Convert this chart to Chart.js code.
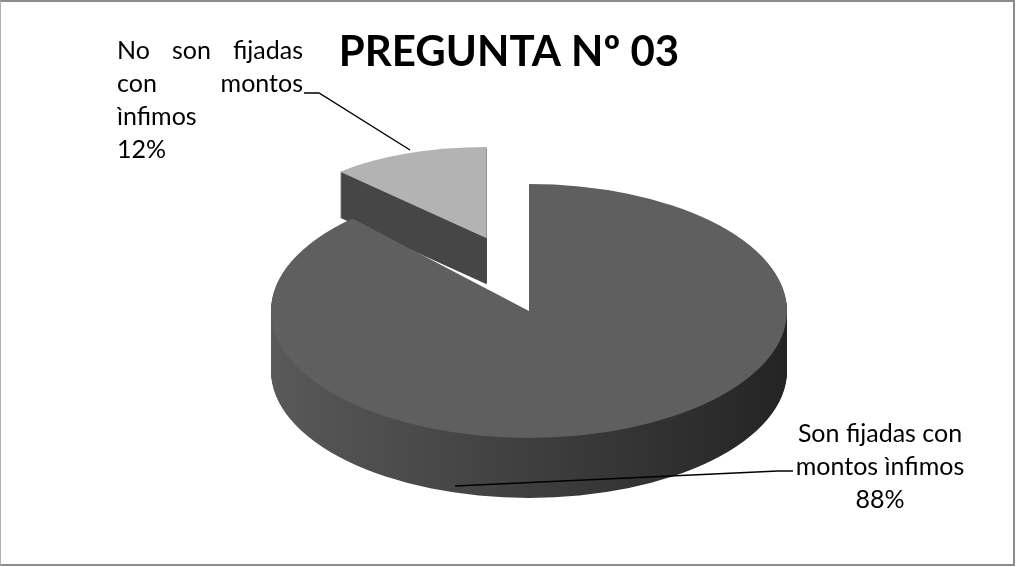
<!DOCTYPE html>
<html lang="es">
<head>
  <meta charset="UTF-8">
  <title>Pregunta Nº 03</title>
  <script src="https://cdn.jsdelivr.net/npm/chart.js"></script>
  <style>
    * {
      margin: 0;
      padding: 0;
      box-sizing: border-box;
    }
    body {
      background: #fff;
      width: 1018px;
      height: 567px;
      overflow: hidden;
      position: relative;
    }
    .frame {
      position: absolute;
      left: 0;
      top: 0;
      width: 1015px;
      height: 566px;
      border: 2px solid #8c8c8c;
      border-left: 1px solid #b0b0b0;
    }
    canvas {
      position: absolute;
      left: 0;
      top: 0;
    }
  </style>
</head>
<body>
  <div class="frame"></div>
  <canvas id="pie" width="1018" height="567"></canvas>

  <script>
    const categories = ['Son fijadas con montos ìnfimos', 'No son fijadas con montos ìnfimos'];
    const percents = [88, 12];
    const chartTitle = 'PREGUNTA Nº 03';

    // tilted ellipse the flat chart circle is mapped onto
    const view = { cx: 529, cy: 311, rx: 258, ry: 127 };

    // look of each slice: top colour, side gradient, thickness, explosion, perspective shrink/rise
    const sliceLook = [
      { top: '#5f5f5f', side: ['#595959', '#242424'], depth: 60, explode: 0, rise: 0, sx: 1, sy: 1 },
      { top: '#b3b3b3', side: ['#464646', '#464646'], depth: 46, explode: 115, rise: 20, sx: 0.83, sy: 0.72 }
    ];

    const labelFont = '25px Lato';
    const labelLook = [
      { x: 880, y: 434, wrap: 175, align: 'center', lead: [[455, 486], [778, 471], [793, 471]] },
      { x: 117, y: 51, wrap: 160, span: 186, align: 'justify', lead: [[304, 93], [319, 93], [410, 150]] }
    ];
    const lineGap = 33;

    function placeSlice(ctx, arc, look) {
      const k = view.rx / arc.outerRadius;
      const squash = view.ry / view.rx;
      const mid = (arc.startAngle + arc.endAngle) / 2;
      const ax = view.cx + Math.cos(mid) * look.explode;
      const ay = view.cy + Math.sin(mid) * look.explode * squash - look.rise;
      ctx.translate(ax, ay);
      ctx.scale(k * look.sx, k * look.sy * squash);
      ctx.translate(-arc.x, -arc.y);
    }

    function wedge(ctx, arc) {
      ctx.beginPath();
      ctx.moveTo(arc.x, arc.y);
      ctx.arc(arc.x, arc.y, arc.outerRadius, arc.startAngle, arc.endAngle);
      ctx.closePath();
    }

    const pie3d = {
      id: 'pie3d',
      beforeDatasetsDraw(chart) {
        const ctx = chart.ctx;
        const arcs = chart.getDatasetMeta(0).data;
        // far slice first so the big one sits in front of it
        const order = arcs.map((a, i) => i).reverse();
        order.forEach(i => {
          const arc = arcs[i];
          const look = sliceLook[i];
          const R = arc.outerRadius;
          for (let t = look.depth; t > 0; t--) {
            ctx.save();
            ctx.translate(0, t);
            placeSlice(ctx, arc, look);
            const g = ctx.createLinearGradient(arc.x - R, 0, arc.x + R, 0);
            g.addColorStop(0, look.side[0]);
            g.addColorStop(1, look.side[1]);
            ctx.fillStyle = g;
            wedge(ctx, arc);
            ctx.fill();
            ctx.restore();
          }
          ctx.save();
          placeSlice(ctx, arc, look);
          ctx.fillStyle = arc.options.backgroundColor;
          wedge(ctx, arc);
          ctx.fill();
          ctx.restore();
        });
        return false;
      }
    };

    function wrap(ctx, text, maxW) {
      const words = text.split(' ');
      const lines = [];
      let cur = '';
      words.forEach(w => {
        const test = cur ? cur + ' ' + w : w;
        if (cur && ctx.measureText(test).width > maxW) {
          lines.push(cur);
          cur = w;
        } else {
          cur = test;
        }
      });
      if (cur) lines.push(cur);
      return lines;
    }

    const pieLabels = {
      id: 'pieLabels',
      afterDraw(chart) {
        const ctx = chart.ctx;
        ctx.save();
        ctx.font = labelFont;
        ctx.fillStyle = '#000';
        ctx.textBaseline = 'middle';
        categories.forEach((name, i) => {
          const look = labelLook[i];
          const lines = wrap(ctx, name, look.wrap);
          const all = lines.concat([percents[i] + '%']);
          all.forEach((line, j) => {
            const y = look.y + j * lineGap;
            if (look.align === 'center') {
              ctx.textAlign = 'center';
              ctx.fillText(line, look.x, y);
            } else if (look.align === 'justify' && j < lines.length - 1) {
              const words = line.split(' ');
              const ws = words.map(w => ctx.measureText(w).width);
              const total = ws.reduce((a, b) => a + b, 0);
              const gap = words.length > 1 ? (look.span - total) / (words.length - 1) : 0;
              ctx.textAlign = 'left';
              let x = look.x;
              words.forEach((w, n) => {
                ctx.fillText(w, x, y);
                x += ws[n] + gap;
              });
            } else {
              ctx.textAlign = 'left';
              ctx.fillText(line, look.x, y);
            }
          });
          ctx.beginPath();
          look.lead.forEach((p, n) => n ? ctx.lineTo(p[0], p[1]) : ctx.moveTo(p[0], p[1]));
          ctx.strokeStyle = '#000';
          ctx.lineWidth = 1.4;
          ctx.stroke();
        });
        ctx.restore();
      }
    };

    new Chart(document.getElementById('pie'), {
      type: 'pie',
      data: {
        labels: categories,
        datasets: [{
          data: percents,
          backgroundColor: sliceLook.map(s => s.top),
          borderWidth: 0
        }]
      },
      options: {
        responsive: false,
        animation: false,
        events: [],
        layout: { padding: 0 },
        plugins: {
          legend: { display: false },
          tooltip: { enabled: false },
          title: {
            display: true,
            text: chartTitle,
            color: '#000',
            font: { family: 'Lato', size: 42, weight: 'bold' },
            padding: { top: 27, bottom: 0 }
          }
        }
      },
      plugins: [pie3d, pieLabels]
    });
  </script>
</body>
</html>
